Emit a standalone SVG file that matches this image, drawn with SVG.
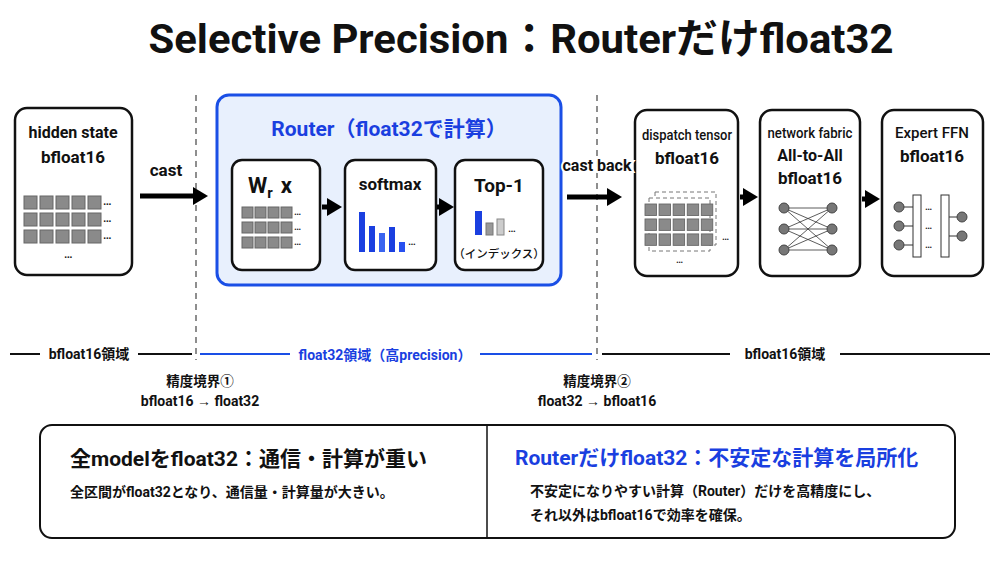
<svg xmlns="http://www.w3.org/2000/svg" width="1000" height="563" viewBox="0 0 1000 563">
<style>
text{font-family:"Roboto","Liberation Sans","Noto Sans CJK JP",sans-serif;fill:#111;font-weight:500}
.b{font-weight:bold}
.box{fill:#fff;stroke:#111;stroke-width:2.5}
.cell{fill:#8a8a8a;stroke:#666;stroke-width:1}
.dash{stroke:#444;stroke-width:1.2;stroke-dasharray:6 5}
.arr{stroke:#000;stroke-width:5;fill:none}
.blue{fill:#1a3fe0}
.dot{fill:#777;stroke:#444}
</style>
<defs>
<marker id="ah" markerWidth="3" markerHeight="3.6" refX="1" refY="1.8" orient="auto"><path d="M0,0 L3,1.8 L0,3.6z" fill="#000"/></marker>
<g id="grid5"><rect class="cell" x="0" y="0" width="13" height="13"/><rect class="cell" x="16" y="0" width="13" height="13"/><rect class="cell" x="32" y="0" width="13" height="13"/><rect class="cell" x="48" y="0" width="13" height="13"/><rect class="cell" x="64" y="0" width="13" height="13"/></g>
<g id="grid4"><rect class="cell" x="0" y="0" width="11" height="11"/><rect class="cell" x="13" y="0" width="11" height="11"/><rect class="cell" x="26" y="0" width="11" height="11"/><rect class="cell" x="39" y="0" width="11" height="11"/></g>
</defs>
<rect width="1000" height="563" fill="#fff"/>
<text x="521" y="53" text-anchor="middle" class="b" font-size="41" textLength="745" lengthAdjust="spacingAndGlyphs">Selective Precision：Routerだけfloat32</text>

<line class="dash" x1="196" y1="95" x2="196" y2="360"/>
<line class="dash" x1="597" y1="95" x2="597" y2="360"/>

<g id="hidden">
<rect class="box" x="15" y="108" width="117" height="167" rx="12"/>
<text x="73" y="138" text-anchor="middle" class="b" font-size="16">hidden state</text>
<text x="73" y="163" text-anchor="middle" class="b" font-size="17">bfloat16</text>
<use href="#grid5" x="24" y="196"/><use href="#grid5" x="24" y="213"/><use href="#grid5" x="24" y="230"/>
<text x="103" y="205" font-size="12">…</text><text x="103" y="222" font-size="12">…</text><text x="103" y="239" font-size="12">…</text>
<text x="64" y="258" font-size="12">…</text>
</g>

<g id="router">
<rect x="217" y="95" width="344" height="190" rx="12" fill="#e8f0fd" stroke="#1a4fe6" stroke-width="3"/>
<text x="389" y="136" text-anchor="middle" class="b" font-size="21" style="fill:#1a3fe0">Router（float32で計算）</text>
</g>
<g id="wrx">
<rect class="box" x="232" y="160" width="88" height="110" rx="10"/>
<text x="248" y="193" class="b" font-size="22">W<tspan font-size="15" dy="5">r</tspan><tspan dy="-5" dx="8">x</tspan></text>
<use href="#grid4" x="242" y="207"/><use href="#grid4" x="242" y="222"/><use href="#grid4" x="242" y="237"/>
<text x="294" y="215" font-size="10">…</text><text x="294" y="230" font-size="10">…</text><text x="294" y="245" font-size="10">…</text>
</g>
<g id="softmax">
<rect class="box" x="345" y="160" width="91" height="110" rx="10"/>
<text x="390" y="190" text-anchor="middle" class="b" font-size="17">softmax</text>
<rect class="blue" x="359" y="212" width="6" height="40"/>
<rect class="blue" x="369" y="226" width="6" height="26"/>
<rect x="379" y="233" width="6" height="19" fill="#3a64f0"/>
<rect class="blue" x="389" y="227" width="6" height="25"/>
<rect x="399" y="242" width="6" height="10" fill="#2850f0"/>
<text x="408" y="245" font-size="11">…</text>
</g>
<g id="top1">
<rect class="box" x="455" y="160" width="88" height="110" rx="10"/>
<text x="499" y="192" text-anchor="middle" class="b" font-size="19">Top-1</text>
<rect class="blue" x="475" y="211" width="7" height="24"/>
<rect x="486" y="223" width="7" height="12" fill="#999" stroke="#777"/>
<rect x="497" y="219" width="7" height="16" fill="#ccc" stroke="#888"/>
<text x="508" y="232" font-size="11">…</text>
<text x="499" y="258" text-anchor="middle" font-size="11.5">（インデックス）</text>
</g>

<g id="dispatch">
<rect class="box" x="635" y="110" width="103" height="166" rx="12"/>
<text x="687" y="140" text-anchor="middle" font-size="14" textLength="90" lengthAdjust="spacingAndGlyphs">dispatch tensor</text>
<text x="687" y="164" text-anchor="middle" class="b" font-size="17">bfloat16</text>
<rect x="655" y="192" width="61" height="53" fill="#fff" stroke="#777" stroke-dasharray="4 3"/>
<rect x="649" y="198" width="61" height="53" fill="#fff" stroke="#777" stroke-dasharray="4 3"/>
<g transform="translate(645,204) scale(0.88)"><use href="#grid5"/><use href="#grid5" y="17"/><use href="#grid5" y="34"/></g>
<text x="722" y="240" font-size="10">…</text>
<text x="676" y="263" font-size="10">…</text>
</g>

<g id="network">
<rect class="box" x="760" y="110" width="100" height="166" rx="12"/>
<text x="810" y="138" text-anchor="middle" font-size="14" textLength="85" lengthAdjust="spacingAndGlyphs">network fabric</text>
<text x="810" y="161" text-anchor="middle" class="b" font-size="16">All-to-All</text>
<text x="810" y="184" text-anchor="middle" class="b" font-size="17">bfloat16</text>
<g stroke="#333" stroke-width="0.8">
<line x1="784" y1="208" x2="832" y2="208"/><line x1="784" y1="208" x2="832" y2="229"/><line x1="784" y1="208" x2="832" y2="250"/>
<line x1="784" y1="229" x2="832" y2="208"/><line x1="784" y1="229" x2="832" y2="229"/><line x1="784" y1="229" x2="832" y2="250"/>
<line x1="784" y1="250" x2="832" y2="208"/><line x1="784" y1="250" x2="832" y2="229"/><line x1="784" y1="250" x2="832" y2="250"/>
</g>
<circle class="dot" cx="784" cy="208" r="5"/><circle class="dot" cx="784" cy="229" r="5"/><circle class="dot" cx="784" cy="250" r="5"/>
<circle class="dot" cx="832" cy="208" r="5"/><circle class="dot" cx="832" cy="229" r="5"/><circle class="dot" cx="832" cy="250" r="5"/>
</g>

<g id="expert">
<rect class="box" x="882" y="110" width="101" height="166" rx="12"/>
<text x="932" y="138" text-anchor="middle" font-size="15">Expert FFN</text>
<text x="932" y="162" text-anchor="middle" class="b" font-size="17">bfloat16</text>
<g stroke="#333" stroke-width="1">
<line x1="899" y1="207" x2="913" y2="207"/><line x1="899" y1="226" x2="913" y2="226"/><line x1="899" y1="245" x2="913" y2="245"/>
<line x1="949" y1="217" x2="962" y2="217"/><line x1="949" y1="236" x2="962" y2="236"/>
<rect x="913" y="195" width="8" height="62" fill="#fff"/>
<rect x="941" y="195" width="8" height="62" fill="#fff"/>
</g>
<circle class="dot" cx="899" cy="207" r="5"/><circle class="dot" cx="899" cy="226" r="5"/><circle class="dot" cx="899" cy="245" r="5"/>
<circle class="dot" cx="962" cy="217" r="5"/><circle class="dot" cx="962" cy="236" r="5"/>
<text x="925" y="210" font-size="10">…</text><text x="925" y="229" font-size="10">…</text><text x="925" y="248" font-size="10">…</text>
</g>

<g id="connectors">
<line class="arr" x1="140" y1="196" x2="198" y2="196" marker-end="url(#ah)"/>
<line class="arr" x1="322" y1="207" x2="332" y2="207" marker-end="url(#ah)"/>
<line class="arr" x1="437" y1="207" x2="444" y2="207" marker-end="url(#ah)"/>
<line class="arr" x1="567" y1="197" x2="612" y2="197" marker-end="url(#ah)"/>
<line class="arr" x1="740" y1="197" x2="748" y2="197" marker-end="url(#ah)"/>
<line class="arr" x1="862" y1="199" x2="870" y2="199" marker-end="url(#ah)"/>
<text x="166" y="176" text-anchor="middle" class="b" font-size="17">cast</text>
<text x="597" y="171" text-anchor="middle" class="b" font-size="16" style="paint-order:stroke;stroke:#fff;stroke-width:4">cast back</text>
</g>

<g id="domains">
<line x1="10" y1="354" x2="192" y2="354" stroke="#111" stroke-width="2"/>
<rect x="40" y="343" width="98" height="22" fill="#fff"/>
<text x="89" y="359" text-anchor="middle" class="b" font-size="14">bfloat16領域</text>
<line x1="200" y1="354" x2="592" y2="354" stroke="#1a4fe6" stroke-width="2"/>
<rect x="290" y="343" width="190" height="22" fill="#fff"/>
<text x="385" y="360" text-anchor="middle" class="b" font-size="14" style="fill:#1a3fe0">float32領域（高precision）</text>
<line x1="602" y1="354" x2="990" y2="354" stroke="#111" stroke-width="2"/>
<rect x="730" y="343" width="110" height="22" fill="#fff"/>
<text x="785" y="359" text-anchor="middle" class="b" font-size="14">bfloat16領域</text>
<text x="200" y="386" text-anchor="middle" class="b" font-size="13.5">精度境界①</text>
<text x="200" y="406" text-anchor="middle" class="b" font-size="14">bfloat16 → float32</text>
<text x="597" y="386" text-anchor="middle" class="b" font-size="13.5">精度境界②</text>
<text x="597" y="406" text-anchor="middle" class="b" font-size="14">float32 → bfloat16</text>
</g>

<g id="summary">
<rect x="40" y="425" width="915" height="113" rx="12" fill="#fff" stroke="#111" stroke-width="2"/>
<line x1="487" y1="425" x2="487" y2="538" stroke="#111" stroke-width="1.5"/>
<text x="70" y="466" class="b" font-size="21">全modelをfloat32：通信・計算が重い</text>
<text x="70" y="497" class="b" font-size="14">全区間がfloat32となり、通信量・計算量が大きい。</text>
<text x="515" y="465" class="b" font-size="21" style="fill:#1a3fe0">Routerだけfloat32：不安定な計算を局所化</text>
<text x="530" y="496" class="b" font-size="14">不安定になりやすい計算（Router）だけを高精度にし、</text>
<text x="530" y="520" class="b" font-size="14">それ以外はbfloat16で効率を確保。</text>
</g>
</svg>
